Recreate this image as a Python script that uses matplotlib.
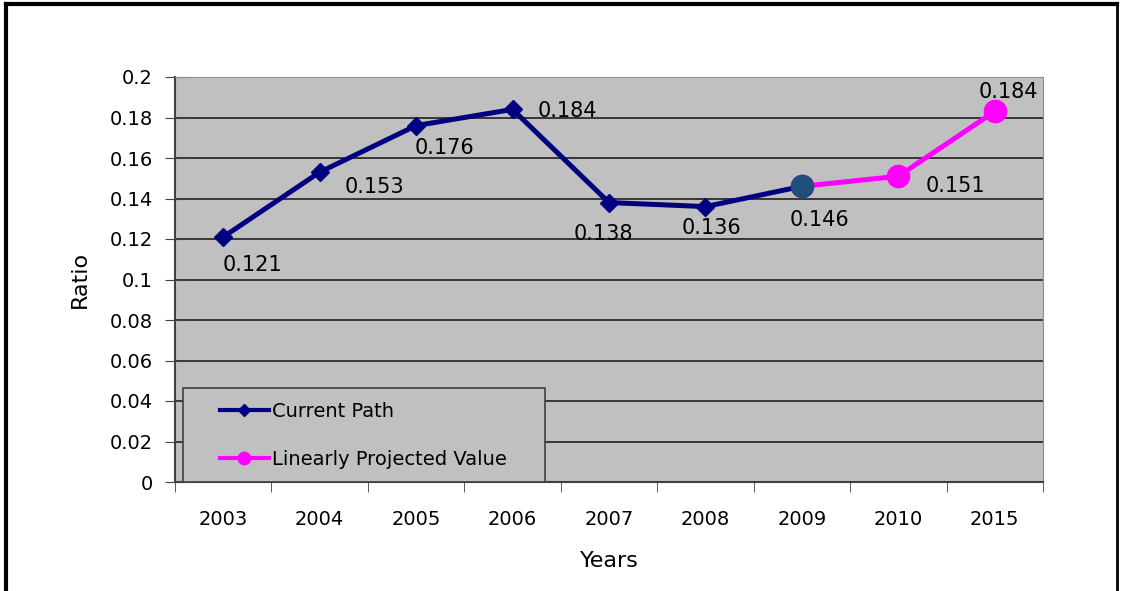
import numpy as np
import matplotlib
matplotlib.use('Agg')
import matplotlib.pyplot as plt
from matplotlib.lines import Line2D
from matplotlib.patches import Rectangle

years = ['2003', '2004', '2005', '2006', '2007', '2008', '2009', '2010', '2015']
current = [0.121, 0.153, 0.176, 0.184, 0.138, 0.136, 0.146]
projected = [0.146, 0.151, 0.183]
proj_labels = ['0.146', '0.151', '0.184']
yticks = [0, 0.02, 0.04, 0.06, 0.08, 0.1, 0.12, 0.14, 0.16, 0.18, 0.2]
ytick_labels = ['0', '0.02', '0.04', '0.06', '0.08', '0.1', '0.12', '0.14', '0.16', '0.18', '0.2']

# décalages des étiquettes (en pixels)
cur_off = [(-1, -28), (25, -15), (-1, -22), (25, -2), (-35, -31), (-24, -21)]
proj_off = [(-12, -34), (27, -10), (-16, 19)]

plt.rcParams['font.family'] = ['DejaVu Sans']

fig = plt.figure(figsize=(11.22, 5.91), dpi=100)
ax = fig.add_axes([175 / 1122, 1 - 482 / 591, 868 / 1122, 405 / 591])
ax.set_facecolor('#C0C0C0')

x = np.arange(len(years))
xc = x[:len(current)]
xp = x[len(current) - 1:]

ax.plot(xp, projected, color='#FF00FF', lw=3.6, marker='o', ms=16, zorder=3)
ax.plot(xp[0], projected[0], 'o', color='#1F4E79', ms=16, zorder=5)
ax.plot(xc, current, color='#000080', lw=3.6, marker='D', ms=9.5, zorder=4)

for i in range(len(current) - 1):
    ax.annotate(f'{current[i]:.3f}', (xc[i], current[i]), xytext=cur_off[i],
                textcoords='offset pixels', fontsize=15, ha='left', va='center')
for i in range(len(projected)):
    ax.annotate(proj_labels[i], (xp[i], projected[i]), xytext=proj_off[i],
                textcoords='offset pixels', fontsize=15, ha='left', va='center')

ax.set_xlim(-0.5, len(years) - 0.5)
ax.set_ylim(0, 0.2)
ax.set_yticks(yticks)
ax.set_yticklabels(ytick_labels, fontsize=14)
ax.set_xticks(x)
ax.set_xticklabels(years, fontsize=14)
ax.set_xticks(np.arange(len(years) + 1) - 0.5, minor=True)
ax.tick_params(axis='x', which='major', length=0, pad=20)
ax.tick_params(axis='x', which='minor', length=7, direction='out', color='#404040')
ax.tick_params(axis='y', length=14, direction='inout', color='#404040', pad=9)
ax.grid(axis='y', color='#202020', lw=1.2)
ax.set_axisbelow(True)
for s in ['top', 'right']:
    ax.spines[s].set_color('#909090')
for s in ['left', 'bottom']:
    ax.spines[s].set_color('#404040')
    ax.spines[s].set_linewidth(1.5)

ax.set_xlabel('Years', fontsize=16, labelpad=16)
ax.set_ylabel('Ratio', fontsize=16, labelpad=14)

# boîte de la légende
ax.add_patch(Rectangle((8 / 868, 0), 362 / 868, 94 / 405, transform=ax.transAxes,
                       facecolor='#C0C0C0', edgecolor='#404040', lw=1.2, zorder=6,
                       clip_on=False))
handles = [Line2D([], [], color='#000080', lw=3, marker='D', ms=6),
           Line2D([], [], color='#FF00FF', lw=3, marker='o', ms=9)]
leg = ax.legend(handles, ['Current Path', 'Linearly Projected Value'],
                loc='center left', bbox_to_anchor=(45 / 868, 46.5 / 405),
                fontsize=14, frameon=False, labelspacing=1.5,
                handlelength=2.5, handletextpad=0.2, borderpad=0, borderaxespad=0)
leg.set_zorder(7)

# cadre de la figure
fig.add_artist(Line2D([6 / 1122, 6 / 1122], [0, 1 - 4 / 591], color='black', lw=3))
fig.add_artist(Line2D([6 / 1122, 1117 / 1122], [1 - 4 / 591, 1 - 4 / 591], color='black', lw=3))
fig.add_artist(Line2D([1117 / 1122, 1117 / 1122], [0, 1 - 4 / 591], color='black', lw=2))

plt.savefig('out.png', dpi=100)
